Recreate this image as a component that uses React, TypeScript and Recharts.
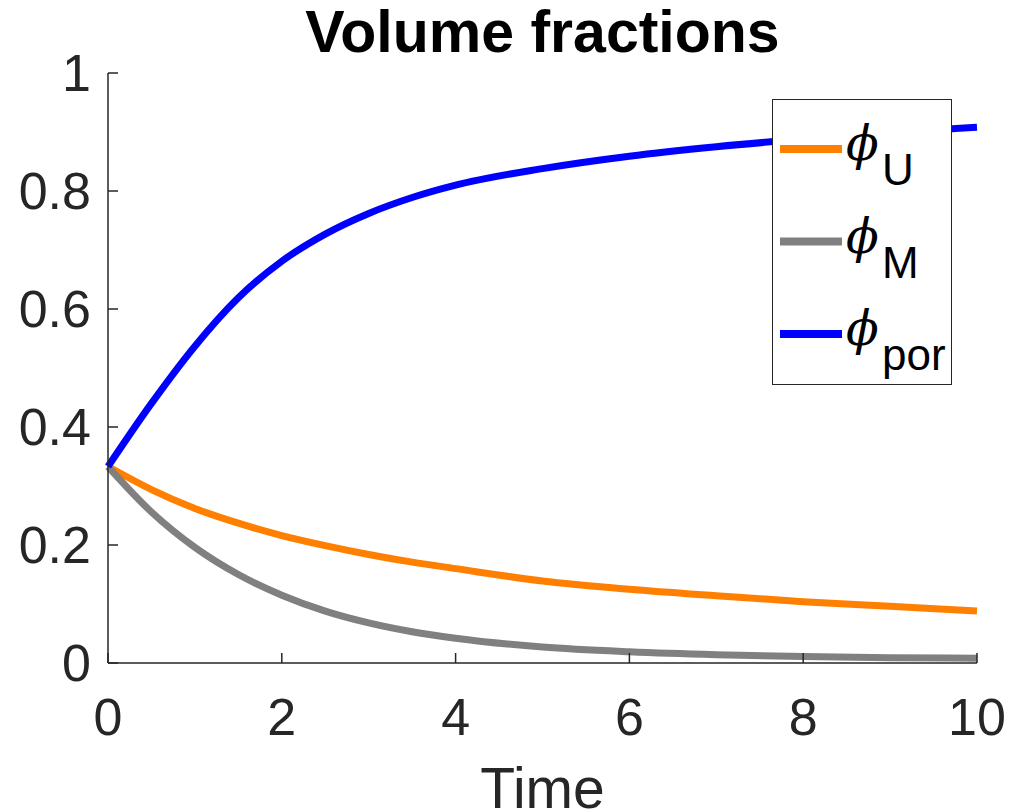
import React from 'react';
import { LineChart, Line, XAxis, YAxis, Legend, Label } from 'recharts';

// values
const TIME = [0, 0.5, 1, 1.5, 2, 2.5, 3, 3.5, 4, 5, 6, 7, 8, 9, 10];
const PHI_U = [0.333, 0.294, 0.262, 0.237, 0.216, 0.199, 0.184, 0.171, 0.16, 0.139, 0.125, 0.114, 0.104, 0.096, 0.088];
const PHI_M = [0.333, 0.256, 0.196, 0.15, 0.115, 0.088, 0.068, 0.053, 0.042, 0.027, 0.019, 0.014, 0.011, 0.009, 0.008];
const PHI_POR = [0.333, 0.44, 0.537, 0.619, 0.681, 0.727, 0.762, 0.789, 0.81, 0.838, 0.859, 0.875, 0.888, 0.899, 0.908];

const X_TICKS = [0, 2, 4, 6, 8, 10];
const Y_TICKS = [0, 0.2, 0.4, 0.6, 0.8, 1];

const SERIES = [
  { key: 'u', sub: 'U', color: '#FF8000', values: PHI_U },
  { key: 'm', sub: 'M', color: '#808080', values: PHI_M },
  { key: 'por', sub: 'por', color: '#0000FF', values: PHI_POR },
];

const data = TIME.map((t, i) => {
  const row: Record<string, number> = { t };
  SERIES.forEach((s) => {
    row[s.key] = s.values[i];
  });
  return row;
});

const FONT = '"Liberation Sans", Arial, Helvetica, sans-serif';
const AXIS = '#262626';
const noLabel = () => '';

const LegendBox = () => (
  <svg width={180} height={286} style={{ display: 'block' }}>
    <rect x={0.5} y={0.5} width={179} height={285} fill="#fff" stroke={AXIS} strokeWidth={1} />
    {SERIES.map((s, i) => {
      const cy = 50 + i * 92.5;
      return (
        <g key={s.key}>
          <line x1={8} x2={70} y1={cy} y2={cy} stroke={s.color} strokeWidth={8} />
          <text x={74} y={cy + 11} fontFamily='"DejaVu Serif", serif' fontStyle="italic" fontSize={48} fill="#000">
            ϕ
          </text>
          <text x={110} y={cy + 36} fontFamily={FONT} fontSize={44} fill="#000">
            {s.sub}
          </text>
        </g>
      );
    })}
  </svg>
);

export default function App() {
  return (
    <div style={{ position: 'absolute', left: 0, top: 0, width: 1013, height: 812, background: '#fff', fontFamily: FONT }}>
      <div
        style={{
          position: 'absolute',
          left: 108,
          width: 869,
          top: 3,
          textAlign: 'center',
          fontSize: 59,
          lineHeight: '59px',
          fontWeight: 'bold',
          color: '#000',
        }}
      >
        Volume fractions
      </div>
      <LineChart width={1013} height={812} data={data} margin={{ top: 73, right: 36, left: 0, bottom: 0 }}>
        <XAxis
          dataKey="t"
          type="number"
          domain={[0, 10]}
          ticks={X_TICKS}
          height={149}
          stroke={AXIS}
          strokeWidth={1.5}
          tickSize={-10}
          tickMargin={45}
          tick={{ fill: AXIS, fontSize: 52, fontFamily: FONT }}
        >
          <Label value="Time" position="insideBottom" offset={4} fill={AXIS} fontSize={57} fontFamily={FONT} />
        </XAxis>
        <XAxis
          xAxisId="top"
          orientation="top"
          type="number"
          domain={[0, 10]}
          ticks={X_TICKS}
          height={0}
          stroke={AXIS}
          strokeWidth={1.5}
          tickSize={-10}
          tickFormatter={noLabel}
        />
        <YAxis
          type="number"
          domain={[0, 1]}
          ticks={Y_TICKS}
          width={108}
          stroke={AXIS}
          strokeWidth={1.5}
          tickSize={-10}
          tickMargin={27}
          tick={{ fill: AXIS, fontSize: 52, fontFamily: FONT }}
        />
        <YAxis
          yAxisId="right"
          orientation="right"
          type="number"
          domain={[0, 1]}
          ticks={Y_TICKS}
          width={0}
          stroke={AXIS}
          strokeWidth={1.5}
          tickSize={-10}
          tickFormatter={noLabel}
        />
        {SERIES.map((s) => (
          <Line
            key={s.key}
            dataKey={s.key}
            type="monotone"
            stroke={s.color}
            strokeWidth={7}
            dot={false}
            isAnimationActive={false}
          />
        ))}
        <Legend
          layout="horizontal"
          verticalAlign="middle"
          align="center"
          content={() => <LegendBox />}
          wrapperStyle={{ position: 'absolute', left: 772, top: 99, width: 180, height: 286 }}
        />
      </LineChart>
    </div>
  );
}
